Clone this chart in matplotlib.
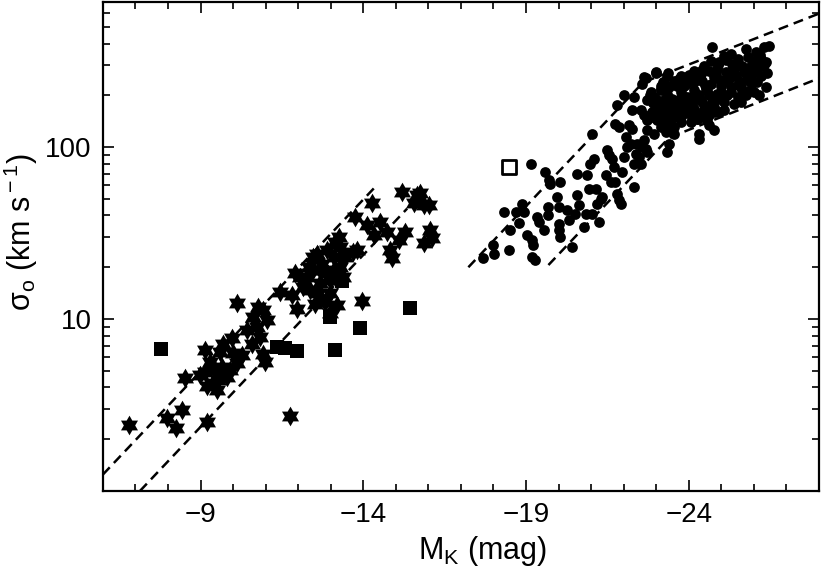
import numpy as np
import matplotlib
matplotlib.use("Agg")
import matplotlib.pyplot as plt
from matplotlib.ticker import FixedLocator, LogLocator, NullFormatter

plt.rcParams["font.family"] = ["Liberation Sans", "DejaVu Sans"]
plt.rcParams["mathtext.fontset"] = "custom"
plt.rcParams["mathtext.rm"] = "Liberation Sans"
plt.rcParams["mathtext.it"] = "Liberation Sans:italic"

# ── Data ──────────────────────────────────────────────────────────────────────
# dwarf spheroidals / faint systems (six-pointed stars)
star_M = [-6.81, -7.96, -8.25, -8.42, -8.52, -9.19, -9.14, -8.98, -9.14, -9.39,
          -9.50, -9.60, -9.65, -9.81, -9.96, -10.01, -10.11, -10.27, -9.45, -9.55,
          -10.11, -10.62, -10.73, -10.83, -10.93, -11.04, -10.58, -10.93, -10.98, -11.45,
          -11.81, -11.91, -11.96, -12.27, -12.32, -12.47, -12.37, -12.52, -12.68, -12.73,
          -12.88, -12.98, -13.09, -13.14, -13.24, -13.29, -13.45, -13.19, -13.70, -13.81,
          -12.98, -11.75, -13.96, -13.75, -14.27, -14.11, -14.32, -14.52, -14.73, -14.83,
          -14.88, -15.09, -15.29, -15.19, -15.55, -15.65, -15.75, -15.86, -16.01, -15.86,
          -16.06, -16.11, -12.57, -12.98, -13.19, -12.47, -12.83, -12.06, -9.29, -9.91,
          -9.70, -10.42, -10.78, -12.68, -13.09, -13.39, -12.88, -13.29, -12.62, -12.16,
          -9.19]
star_sig = [2.43, 2.66, 2.32, 2.94, 4.53, 2.53, 6.6, 4.73, 4.95, 4.24,
            3.87, 6.46, 5.28, 4.62, 7.73, 6.32, 5.53, 6.18, 5.06, 4.43,
            12.4, 10.3, 9.0, 7.9, 11.3, 9.9, 7.2, 6.3, 5.65, 14.4,
            13.8, 18.4, 11.5, 17.6, 20.1, 23.0, 14.7, 12.3, 16.1, 21.0,
            18.4, 14.1, 23.0, 28.1, 30.1, 20.1, 23.0, 12.1, 24.6, 25.1,
            10.8, 2.71, 12.8, 39.3, 47.5, 35.2, 30.8, 36.7, 32.1, 25.1,
            22.5, 28.7, 32.1, 54.8, 47.0, 52.5, 53.7, 45.9, 45.9, 27.5,
            32.9, 29.4, 24.0, 16.8, 16.8, 19.2, 12.6, 17.6, 5.65, 5.06,
            7.2, 8.6, 11.8, 19.2, 19.2, 17.6, 25.1, 26.2, 14.1, 15.4,
            4.05]

# filled squares
sq_M = [-7.78, -11.35, -11.60, -11.97, -13.14, -12.98, -13.91, -15.45, -13.35]
sq_sig = [6.7, 6.9, 6.8, 6.5, 6.6, 10.3, 8.9, 11.6, 16.6]

# open square
osq_M = [-18.47]
osq_sig = [76.5]

# early-type galaxies (dots)
gal_M = [-17.68, -18.01, -17.99, -18.47, -18.32, -18.52, -18.68, -18.78, -18.88, -18.93,
         -19.04, -19.14, -19.19, -19.22, -19.19, -19.29, -19.34, -19.40, -19.55, -19.60,
         -19.67, -19.67, -19.70, -19.75, -19.96, -20.01, -20.01, -20.06, -20.06, -20.01,
         -20.27, -20.32, -20.42, -20.52, -20.57, -20.63, -20.57, -20.78, -20.83, -20.88,
         -20.93, -20.98, -21.04, -21.04, -21.09, -21.14, -21.19, -21.24, -21.29, -21.34,
         -21.45, -21.50, -21.55, -21.60, -21.65, -21.70, -21.75, -21.81, -21.86, -21.91,
         -21.96, -22.01, -22.06, -22.11, -22.16, -22.22, -22.27, -22.32, -22.32, -22.37,
         -22.42, -22.47, -22.52, -22.57, -22.63, -22.68, -22.73, -21.75, -21.86, -22.01,
         -22.32, -21.81, -22.27, -22.52, -22.57, -22.63, -22.98, -22.93, -23.14, -23.04,
         -22.88, -22.93, -22.73, -23.34, -23.40, -23.34, -23.14, -23.24, -23.55, -23.70,
         -24.32, -24.32, -24.63, -24.78, -24.73, -25.60, -26.16, -26.37, -25.29, -25.75,
         -26.06, -26.32, -26.37, -26.47,
         # dense clump
         -25.09, -25.50, -25.81, -26.01, -26.22, -26.16, -25.91, -25.65, -25.34, -24.93,
         -24.68, -24.47, -24.16, -24.37, -24.63, -24.88, -25.14, -25.40, -25.70, -25.96,
         -26.22, -23.96, -23.75, -23.55, -23.24, -24.78, -25.24, -25.55, -25.86, -26.11,
         -23.14, -23.40, -23.65, -23.91, -24.16, -24.42, -24.68, -24.98, -25.29, -25.60,
         -25.91, -24.52, -24.16, -23.75, -23.34, -22.83, -22.73, -22.98, -23.24, -23.50,
         -23.75, -24.06, -24.32, -24.63, -24.88, -25.19, -25.50, -25.75, -26.01, -24.73,
         -24.42, -24.11, -23.80, -23.55, -23.29, -23.04, -25.09, -25.40, -22.63, -22.88,
         -23.14, -23.40, -23.65, -23.91, -24.16, -24.47, -24.78, -25.09, -22.73, -23.04,
         -23.29, -23.55, -23.80, -24.06, -24.37, -24.63, -24.93, -23.14, -23.45, -23.75,
         -24.06, -24.27, -24.57, -23.29, -23.55,
         -22.98, -23.35, -22.68, -23.70, -24.00, -24.40, -24.90, -25.50, -26.20, -25.90,
         -26.40, -25.20, -24.50, -24.20, -23.60, -23.90, -24.60, -25.30, -25.80, -22.90,
         -23.40, -24.30, -24.90, -25.50,
         -23.85, -24.25, -24.85, -25.35, -25.05, -24.55, -23.95, -24.75, -25.65, -26.05,
         -23.45, -23.00, -24.00, -25.00, -25.45, -24.35, -23.65, -24.95, -26.30, -25.15,
         -22.80, -23.20, -24.10, -24.80, -25.75]
gal_sig = [22.5, 23.8, 26.9, 25.1, 42.0, 33.1, 42.0, 36.2, 46.9, 42.0,
           30.7, 80.1, 28.7, 26.9, 23.0, 22.0, 39.3, 36.7, 32.9, 71.6,
           40.1, 44.9, 64.1, 61.2, 51.3, 35.9, 32.9, 30.0, 62.7, 44.9,
           42.9, 37.5, 26.3, 41.0, 70.0, 45.9, 52.4, 34.4, 41.0, 68.5,
           57.3, 80.1, 119.5, 41.0, 85.6, 57.3, 46.9, 36.7, 50.1, 51.3,
           68.5, 95.7, 89.5, 62.7, 85.6, 76.5, 62.7, 53.6, 49.1, 46.9,
           71.6, 87.5, 114.3, 100.0, 133.7, 104.6, 127.8, 80.1, 58.6, 91.5,
           104.6, 87.5, 80.1, 100.0, 109.4, 97.8, 93.6, 136.6, 130.7, 199.5,
           195.2, 174.6, 163.3, 163.3, 233.0, 255.0, 272.6, 195.2, 228.0, 170.8,
           149.0, 119.5, 125.0, 260.7, 104.6, 93.6, 213.4, 143.0, 130.7, 149.0,
           119.5, 111.8, 133.7, 125.0, 380.7, 182.6, 199.5, 223.0, 348.0, 372.0,
           356.0, 380.7, 311.6, 389.0,
           340.6, 325.7, 333.0, 318.6, 325.7, 291.0, 298.0, 298.0, 304.7, 311.6,
           318.6, 298.0, 278.7, 266.6, 278.7, 285.0, 272.6, 278.7, 272.6, 266.6,
           260.7, 255.0, 260.7, 243.8, 238.5, 255.0, 249.3, 243.8, 243.8, 238.5,
           218.2, 223.0, 228.0, 233.0, 238.5, 243.8, 233.0, 228.0, 223.0, 223.0,
           218.2, 218.2, 213.4, 208.7, 204.0, 208.7, 187.0, 190.8, 187.0, 190.8,
           195.2, 195.2, 199.5, 199.5, 204.0, 199.5, 195.2, 199.5, 208.7, 182.6,
           182.6, 178.5, 178.5, 174.6, 170.8, 178.5, 182.6, 178.5, 152.8, 159.7,
           156.2, 159.7, 163.3, 163.3, 167.0, 167.0, 170.8, 163.3, 143.0, 143.0,
           136.6, 149.0, 152.8, 152.8, 156.2, 152.8, 159.7, 130.7, 133.7, 139.7,
           139.7, 146.0, 143.0, 122.3, 119.5,
           271.0, 268.0, 251.0, 250.0, 262.0, 280.0, 300.0, 300.0, 345.0, 290.0,
           270.0, 255.0, 230.0, 205.0, 185.0, 175.0, 170.0, 210.0, 250.0, 180.0,
           150.0, 145.0, 190.0, 230.0,
           225.0, 250.0, 265.0, 290.0, 240.0, 215.0, 195.0, 185.0, 215.0, 280.0,
           175.0, 160.0, 160.0, 210.0, 260.0, 190.0, 230.0, 245.0, 300.0, 320.0,
           200.0, 240.0, 180.0, 160.0, 205.0]

# dashed boundary lines (M, sigma)
lu_M, lu_sig = [-6.0, -14.37], [1.245, 58.7]
ll_M, ll_sig = [-7.14, -15.35], [1.0, 43.9]
ru_M, ru_sig = [-17.23, -22.6, -28.0], [20.0, 237.7, 597.0]
rl_M, rl_sig = [-19.69, -23.4, -28.0], [20.6, 113.5, 251.0]

# ── Plot ──────────────────────────────────────────────────────────────────────
ang = np.pi / 2 + np.arange(12) * np.pi / 6
rad = np.where(np.arange(12) % 2 == 0, 1.0, 1 / np.sqrt(3))
hexagram = list(zip(rad * np.cos(ang), rad * np.sin(ang)))

fig = plt.figure(figsize=(8.23, 5.81), dpi=100)
ax = fig.add_axes([0.125, 0.155, 0.87, 0.842])

dash = dict(color="black", lw=1.8, ls=(0, (4.0, 2.4)))
for xs, ys in [(lu_M, lu_sig), (ll_M, ll_sig), (ru_M, ru_sig), (rl_M, rl_sig)]:
    ax.plot(xs, ys, **dash)

ax.scatter(gal_M, gal_sig, s=60, c="black", marker="o", lw=0, zorder=3)
ax.scatter(star_M, star_sig, s=200, c="black", marker=hexagram, lw=0, zorder=3)
ax.scatter(sq_M, sq_sig, s=115, c="black", marker="s", lw=0, zorder=3)
ax.scatter(osq_M, osq_sig, s=95, facecolors="white", edgecolors="black",
           marker="s", lw=2.0, zorder=3)

ax.set_yscale("log")
ax.set_xlim(-6, -28)
ax.set_ylim(1, 700)

ax.xaxis.set_major_locator(FixedLocator([-9, -14, -19, -24]))
ax.xaxis.set_minor_locator(FixedLocator(np.arange(-6, -29, -1)))
ax.yaxis.set_major_locator(FixedLocator([10, 100]))
ax.yaxis.set_minor_locator(LogLocator(base=10, subs=np.arange(2, 10)))
ax.yaxis.set_minor_formatter(NullFormatter())
ax.set_yticklabels(["10", "100"])

ax.tick_params(which="both", direction="in", top=True, right=True, width=1.2,
               labelsize=20)
ax.tick_params(which="major", length=8, pad=8)
ax.tick_params(which="minor", length=5)
for sp in ax.spines.values():
    sp.set_linewidth(1.6)

ax.set_xlabel(r"M$_{\rm K}$ (mag)", fontsize=22, x=0.53)
ax.set_ylabel(r"σ$_{\rm o}$ (km s$^{\rm -1}$)", fontsize=22, y=0.53)

fig.savefig("out.png", dpi=100)
